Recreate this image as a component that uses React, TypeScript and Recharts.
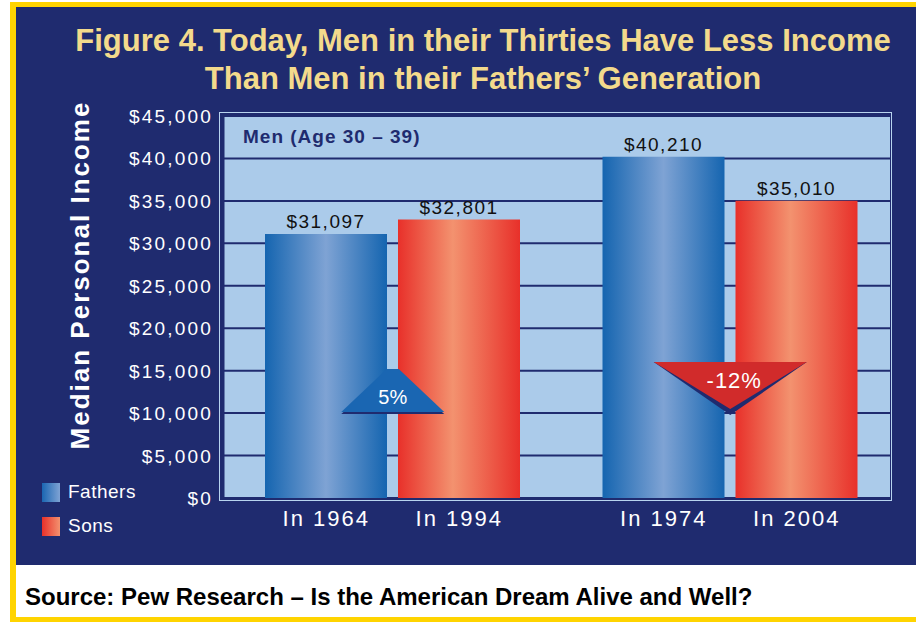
import React from "react";
import {
  BarChart,
  Bar,
  XAxis,
  YAxis,
  CartesianGrid,
  LabelList,
  ReferenceDot,
  Legend,
} from "recharts";

// groups on the x axis: each holds a father bar and a son bar
const groups = ["1964 vs 1994", "1974 vs 2004"];
const fatherYears = ["In 1964", "In 1974"];
const sonYears = ["In 1994", "In 2004"];
const fathersIncome = [31097, 40210];
const sonsIncome = [32801, 35010];
const changeLabels = ["5%", "-12%"];
const changeDirection = ["up", "down"];
const yTicks = [0, 5000, 10000, 15000, 20000, 25000, 30000, 35000, 40000, 45000];

const NAVY = "#1f2b6f";
const PLOT_BG = "#abcbea";
const GOLD = "#f3da8c";
const FONT = "'Liberation Sans', Arial, sans-serif";

const BAR_SIZE = 122;
const BAR_GAP = 11;
const HALF = (BAR_SIZE + BAR_GAP) / 2;

const data = groups.map((g, i) => ({
  group: g,
  fathers: fathersIncome[i],
  sons: sonsIncome[i],
}));

const money = (v: number) => "$" + v.toLocaleString("en-US");

const GroupTick = (props: any) => {
  const { x, y, payload } = props;
  const i = groups.indexOf(payload.value);
  const common = {
    fill: "#fff",
    fontSize: 22,
    letterSpacing: 2,
    textAnchor: "middle" as const,
    fontFamily: FONT,
  };
  return (
    <g>
      <text x={x - HALF} y={y} dy={20} {...common}>
        {fatherYears[i]}
      </text>
      <text x={x + HALF} y={y} dy={20} {...common}>
        {sonYears[i]}
      </text>
    </g>
  );
};

const MoneyTick = (props: any) => {
  const { x, y, payload } = props;
  return (
    <text
      x={x}
      y={y}
      dy={7}
      textAnchor="end"
      fill="#fff"
      fontSize={19}
      letterSpacing={2.2}
      fontFamily={FONT}
    >
      {money(payload.value)}
    </text>
  );
};

const ValueLabel = (props: any) => {
  const { x, y, width, value } = props;
  return (
    <text
      x={x + width / 2}
      y={y - 6}
      textAnchor="middle"
      fill="#111"
      fontSize={19}
      letterSpacing={1.5}
      fontFamily={FONT}
    >
      {money(value)}
    </text>
  );
};

const ChangeMarker = (i: number) => (props: any) => {
  const { cx, cy } = props;
  if (changeDirection[i] === "up") {
    const w = 103;
    const h = 44;
    return (
      <g>
        <polygon
          points={`${cx - w / 2},${cy + 1} ${cx + w / 2},${cy + 1} ${cx},${cy - h + 1}`}
          fill={NAVY}
        />
        <polygon
          points={`${cx - w / 2},${cy - 1} ${cx + w / 2},${cy - 1} ${cx + 6},${cy - h} ${cx - 6},${cy - h}`}
          fill="#1a66b2"
        />
        <text
          x={cx}
          y={cy - 9}
          textAnchor="middle"
          fill="#fff"
          fontSize={20}
          fontFamily={FONT}
        >
          {changeLabels[i]}
        </text>
      </g>
    );
  }
  const w = 153;
  const h = 51;
  return (
    <g>
      <polygon
        points={`${cx - w / 2},${cy - h} ${cx + w / 2},${cy - h} ${cx},${cy + 2}`}
        fill={NAVY}
      />
      <polygon
        points={`${cx - w / 2},${cy - h} ${cx + w / 2},${cy - h} ${cx},${cy - 4}`}
        fill="#d12b2b"
      />
      <text
        x={cx + 4}
        y={cy - h + 26}
        textAnchor="middle"
        fill="#fff"
        fontSize={22}
        letterSpacing={1}
        fontFamily={FONT}
      >
        {changeLabels[i]}
      </text>
    </g>
  );
};

const LegendContent = () => (
  <div style={{ fontFamily: FONT, color: "#fff", fontSize: 19 }}>
    {[
      { name: "Fathers", bg: "linear-gradient(90deg,#1a66b2,#7fa3d4)" },
      { name: "Sons", bg: "linear-gradient(90deg,#e8302a,#f3926f)" },
    ].map((item) => (
      <div
        key={item.name}
        style={{ display: "flex", alignItems: "center", height: 34 }}
      >
        <span
          style={{
            display: "inline-block",
            width: 18,
            height: 19,
            background: item.bg,
            marginRight: 8,
          }}
        />
        <span style={{ letterSpacing: 0.5 }}>{item.name}</span>
      </div>
    ))}
  </div>
);

export default function App() {
  return (
    <div
      style={{
        position: "absolute",
        left: 0,
        top: 0,
        width: 916,
        height: 623,
        background: "#fff",
        overflow: "hidden",
        fontFamily: FONT,
      }}
    >
      <div
        style={{
          position: "absolute",
          left: 10,
          top: 2,
          width: 906,
          height: 620,
          background: "#ffd400",
        }}
      />
      <div
        style={{
          position: "absolute",
          left: 16,
          top: 7,
          width: 900,
          height: 558,
          background: NAVY,
        }}
      />
      <div
        style={{
          position: "absolute",
          left: 16,
          top: 565,
          width: 900,
          height: 52,
          background: "#fff",
        }}
      />
      <div
        style={{
          position: "absolute",
          left: 219,
          top: 112,
          width: 673,
          height: 389,
          border: "1px solid #b8d4ef",
          boxSizing: "border-box",
        }}
      />
      <div
        style={{
          position: "absolute",
          left: 0,
          top: 22,
          width: 966,
          textAlign: "center",
          color: GOLD,
          fontSize: 31,
          fontWeight: "bold",
          lineHeight: "38px",
          whiteSpace: "nowrap",
        }}
      >
        Figure 4. Today, Men in their Thirties Have Less Income
        <br />
        Than Men in their Fathers’ Generation
      </div>
      <div
        style={{
          position: "absolute",
          left: 80,
          top: 275,
          width: 400,
          marginLeft: -200,
          textAlign: "center",
          transform: "translateY(-50%) rotate(-90deg)",
          color: "#fff",
          fontSize: 26,
          fontWeight: "bold",
          letterSpacing: 2,
          whiteSpace: "nowrap",
        }}
      >
        Median Personal Income
      </div>
      <div style={{ position: "absolute", left: 0, top: 0 }}>
        <BarChart
          width={916}
          height={565}
          data={data}
          margin={{ top: 116, right: 26, bottom: 0, left: 133 }}
          barGap={BAR_GAP}
          barSize={BAR_SIZE}
        >
          <defs>
            <linearGradient id="gradFathers" x1="0" y1="0" x2="1" y2="0">
              <stop offset="0%" stopColor="#1565b0" />
              <stop offset="50%" stopColor="#7fa3d4" />
              <stop offset="100%" stopColor="#1565b0" />
            </linearGradient>
            <linearGradient id="gradSons" x1="0" y1="0" x2="1" y2="0">
              <stop offset="0%" stopColor="#e8302a" />
              <stop offset="45%" stopColor="#f3926f" />
              <stop offset="100%" stopColor="#e8302a" />
            </linearGradient>
          </defs>
          <CartesianGrid
            vertical={false}
            fill={PLOT_BG}
            fillOpacity={1}
            stroke={NAVY}
            strokeWidth={2}
            strokeOpacity={1}
          />
          <XAxis
            dataKey="group"
            axisLine={false}
            tickLine={false}
            tick={<GroupTick />}
            height={67}
            interval={0}
            padding={{ left: 1, right: -9 }}
          />
          <YAxis
            width={90}
            domain={[0, 45000]}
            ticks={yTicks}
            interval={0}
            axisLine={{ stroke: NAVY, strokeWidth: 3 }}
            tickLine={false}
            tickMargin={4}
            tick={<MoneyTick />}
          />
          <Legend
            layout="horizontal"
            verticalAlign="middle"
            align="center"
            content={<LegendContent />}
            wrapperStyle={{ left: 42, top: 475, width: 130 }}
          />
          <Bar
            dataKey="fathers"
            name="Fathers"
            fill="url(#gradFathers)"
            isAnimationActive={false}
          >
            <LabelList dataKey="fathers" content={<ValueLabel />} />
          </Bar>
          <Bar
            dataKey="sons"
            name="Sons"
            fill="url(#gradSons)"
            isAnimationActive={false}
          >
            <LabelList dataKey="sons" content={<ValueLabel />} />
          </Bar>
          {groups.map((g, i) => (
            <ReferenceDot
              key={g}
              x={g}
              y={10000}
              r={0}
              shape={ChangeMarker(i)}
            />
          ))}
        </BarChart>
      </div>
      <div
        style={{
          position: "absolute",
          left: 243,
          top: 126,
          color: NAVY,
          fontSize: 19,
          fontWeight: "bold",
          letterSpacing: 1,
          whiteSpace: "nowrap",
        }}
      >
        Men (Age 30 – 39)
      </div>
      <div
        style={{
          position: "absolute",
          left: 25,
          top: 583,
          color: "#000",
          fontSize: 24,
          fontWeight: "bold",
          whiteSpace: "nowrap",
        }}
      >
        Source: Pew Research – Is the American Dream Alive and Well?
      </div>
    </div>
  );
}
